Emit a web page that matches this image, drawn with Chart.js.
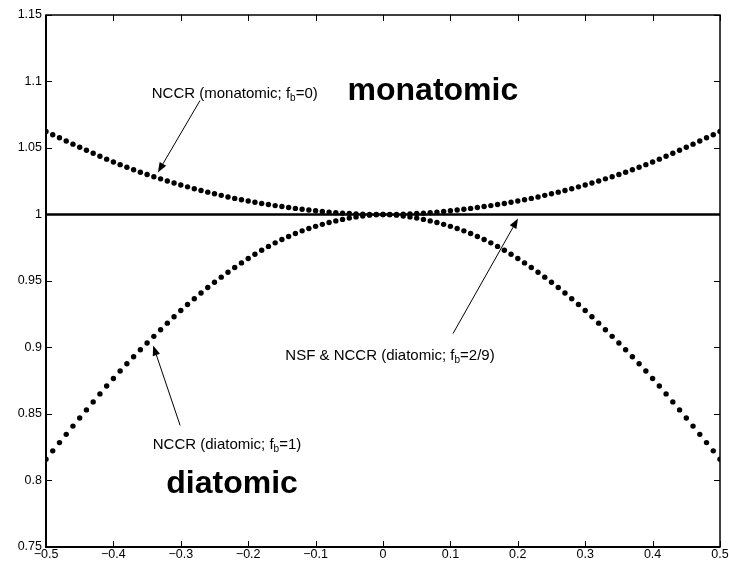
<!DOCTYPE html>
<html>
<head>
<meta charset="utf-8">
<script src="https://cdn.jsdelivr.net/npm/chart.js@4.4.0/dist/chart.umd.min.js"></script>
<style>
  html, body { margin: 0; padding: 0; background: #fff; }
  #wrap { width: 729px; height: 568px; }
</style>
</head>
<body>
<div id="wrap"><canvas id="ratioChart" width="729" height="568"></canvas></div>
<script>
// x positions of the sampled points
const xValues = [
  -0.50, -0.49, -0.48, -0.47, -0.46, -0.45, -0.44, -0.43, -0.42, -0.41,
  -0.40, -0.39, -0.38, -0.37, -0.36, -0.35, -0.34, -0.33, -0.32, -0.31,
  -0.30, -0.29, -0.28, -0.27, -0.26, -0.25, -0.24, -0.23, -0.22, -0.21,
  -0.20, -0.19, -0.18, -0.17, -0.16, -0.15, -0.14, -0.13, -0.12, -0.11,
  -0.10, -0.09, -0.08, -0.07, -0.06, -0.05, -0.04, -0.03, -0.02, -0.01,
  0.00,
  0.01, 0.02, 0.03, 0.04, 0.05, 0.06, 0.07, 0.08, 0.09, 0.10,
  0.11, 0.12, 0.13, 0.14, 0.15, 0.16, 0.17, 0.18, 0.19, 0.20,
  0.21, 0.22, 0.23, 0.24, 0.25, 0.26, 0.27, 0.28, 0.29, 0.30,
  0.31, 0.32, 0.33, 0.34, 0.35, 0.36, 0.37, 0.38, 0.39, 0.40,
  0.41, 0.42, 0.43, 0.44, 0.45, 0.46, 0.47, 0.48, 0.49, 0.50
];

// NCCR monatomic (f_b = 0)
const monatomic = [
  1.0624, 1.0600, 1.0577, 1.0553, 1.0529, 1.0506, 1.0483, 1.0460, 1.0438, 1.0416,
  1.0395, 1.0375, 1.0355, 1.0336, 1.0318, 1.0301, 1.0284, 1.0268, 1.0252, 1.0237,
  1.0222, 1.0208, 1.0194, 1.0181, 1.0168, 1.0156, 1.0144, 1.0132, 1.0121, 1.0111,
  1.0101, 1.0092, 1.0083, 1.0075, 1.0067, 1.0060, 1.0053, 1.0046, 1.0040, 1.0034,
  1.0028, 1.0023, 1.0018, 1.0014, 1.0010, 1.0007, 1.0005, 1.0003, 1.0001, 1.0000,
  1.0000,
  1.0000, 1.0001, 1.0003, 1.0005, 1.0007, 1.0010, 1.0014, 1.0018, 1.0023, 1.0028,
  1.0034, 1.0040, 1.0046, 1.0053, 1.0060, 1.0067, 1.0075, 1.0083, 1.0092, 1.0101,
  1.0111, 1.0121, 1.0132, 1.0144, 1.0156, 1.0168, 1.0181, 1.0194, 1.0208, 1.0222,
  1.0237, 1.0252, 1.0268, 1.0284, 1.0301, 1.0318, 1.0336, 1.0355, 1.0375, 1.0395,
  1.0416, 1.0438, 1.0460, 1.0483, 1.0506, 1.0529, 1.0553, 1.0577, 1.0600, 1.0624
];

// NCCR diatomic (f_b = 1)
const diatomic = [
  0.8160, 0.8223, 0.8285, 0.8347, 0.8409, 0.8470, 0.8531, 0.8591, 0.8651, 0.8710,
  0.8767, 0.8823, 0.8878, 0.8931, 0.8983, 0.9034, 0.9084, 0.9134, 0.9183, 0.9231,
  0.9278, 0.9323, 0.9367, 0.9410, 0.9451, 0.9491, 0.9529, 0.9566, 0.9602, 0.9636,
  0.9669, 0.9701, 0.9731, 0.9760, 0.9787, 0.9812, 0.9835, 0.9857, 0.9877, 0.9895,
  0.9911, 0.9926, 0.9940, 0.9952, 0.9963, 0.9973, 0.9982, 0.9989, 0.9995, 0.9999,
  1.0000,
  0.9999, 0.9995, 0.9989, 0.9982, 0.9973, 0.9963, 0.9952, 0.9940, 0.9926, 0.9911,
  0.9895, 0.9877, 0.9857, 0.9835, 0.9812, 0.9787, 0.9760, 0.9731, 0.9701, 0.9669,
  0.9636, 0.9602, 0.9566, 0.9529, 0.9491, 0.9451, 0.9410, 0.9367, 0.9323, 0.9278,
  0.9231, 0.9183, 0.9134, 0.9084, 0.9034, 0.8983, 0.8931, 0.8878, 0.8823, 0.8767,
  0.8710, 0.8651, 0.8591, 0.8531, 0.8470, 0.8409, 0.8347, 0.8285, 0.8223, 0.8160
];

// NSF & NCCR (diatomic; f_b = 2/9) is flat at 1
const nsfX = [-0.5, 0.5];
const nsfY = [1, 1];

// axis ticks
const xTicks = [-0.5, -0.4, -0.3, -0.2, -0.1, 0, 0.1, 0.2, 0.3, 0.4, 0.5];
const yTicks = [0.75, 0.8, 0.85, 0.9, 0.95, 1, 1.05, 1.1, 1.15];

// annotation text: [main, subscript, tail, x, y] (data coords, centre)
const notes = [
  ['NCCR (monatomic; f', 'b', '=0)', -0.22, 1.091],
  ['NCCR (diatomic; f', 'b', '=1)', -0.2315, 0.827],
  ['NSF & NCCR (diatomic; f', 'b', '=2/9)', 0.0104, 0.894]
];
const bigLabels = [
  ['monatomic', 0.074, 1.093],
  ['diatomic', -0.224, 0.797]
];
// arrows: [fromX, fromY, toX, toY]
const arrows = [
  [-0.2715, 1.0857, -0.334, 1.0316],
  [-0.301, 0.8414, -0.341, 0.9015],
  [0.1039, 0.9105, 0.2003, 0.997]
];

const FONT = '"Liberation Sans", Arial, Helvetica, sans-serif';

function fmt(v) {
  const r = Math.round(v * 100) / 100;
  if (r === 0) return '0';
  return (r < 0 ? '\u2212' : '') + String(Math.abs(r));
}

const pts = (xs, ys) => xs.map((x, i) => ({ x: x, y: ys[i] }));

const decorPlugin = {
  id: 'decor',
  afterDraw(chart) {
    const { ctx, chartArea: a, scales: { x, y } } = chart;
    ctx.save();
    ctx.strokeStyle = '#000';
    // box
    ctx.lineWidth = 1.5;
    ctx.strokeRect(a.left, a.top, a.right - a.left, a.bottom - a.top);
    ctx.lineWidth = 2;
    ctx.beginPath();
    ctx.moveTo(a.left, a.top); ctx.lineTo(a.left, a.bottom); ctx.lineTo(a.right, a.bottom);
    ctx.stroke();
    // inward ticks
    const tl = 6;
    ctx.lineWidth = 1;
    ctx.beginPath();
    xTicks.forEach(v => {
      const px = Math.round(x.getPixelForValue(v)) + 0.5;
      ctx.moveTo(px, a.bottom); ctx.lineTo(px, a.bottom - tl);
      ctx.moveTo(px, a.top); ctx.lineTo(px, a.top + tl);
    });
    yTicks.forEach(v => {
      const py = Math.round(y.getPixelForValue(v)) + 0.5;
      ctx.moveTo(a.left, py); ctx.lineTo(a.left + tl, py);
      ctx.moveTo(a.right, py); ctx.lineTo(a.right - tl, py);
    });
    ctx.stroke();

    // annotation texts with subscript
    ctx.fillStyle = '#000';
    ctx.textBaseline = 'middle';
    ctx.textAlign = 'left';
    notes.forEach(([main, sub, tail, nx, ny]) => {
      const big = '15px ' + FONT, small = '10px ' + FONT;
      ctx.font = big;
      const w1 = ctx.measureText(main).width;
      const w3 = ctx.measureText(tail).width;
      ctx.font = small;
      const w2 = ctx.measureText(sub).width;
      let px = x.getPixelForValue(nx) - (w1 + w2 + w3) / 2;
      const py = y.getPixelForValue(ny);
      ctx.font = big;
      ctx.fillText(main, px, py);
      px += w1;
      ctx.font = small;
      ctx.fillText(sub, px, py + 5);
      px += w2;
      ctx.font = big;
      ctx.fillText(tail, px, py);
    });

    ctx.textAlign = 'center';
    ctx.font = 'bold 32px ' + FONT;
    bigLabels.forEach(([t, bx, by]) => {
      ctx.fillText(t, x.getPixelForValue(bx), y.getPixelForValue(by));
    });

    // arrows
    arrows.forEach(([fx, fy, tx, ty]) => {
      const x0 = x.getPixelForValue(fx), y0 = y.getPixelForValue(fy);
      const x1 = x.getPixelForValue(tx), y1 = y.getPixelForValue(ty);
      const ang = Math.atan2(y1 - y0, x1 - x0);
      const hl = 10, hw = 3.8;
      ctx.lineWidth = 1;
      ctx.beginPath();
      ctx.moveTo(x0, y0);
      ctx.lineTo(x1 - hl * Math.cos(ang), y1 - hl * Math.sin(ang));
      ctx.stroke();
      ctx.beginPath();
      ctx.moveTo(x1, y1);
      ctx.lineTo(x1 - hl * Math.cos(ang) - hw * Math.sin(ang), y1 - hl * Math.sin(ang) + hw * Math.cos(ang));
      ctx.lineTo(x1 - hl * Math.cos(ang) + hw * Math.sin(ang), y1 - hl * Math.sin(ang) - hw * Math.cos(ang));
      ctx.closePath();
      ctx.fill();
    });
    ctx.restore();
  }
};

const dotStyle = {
  showLine: false,
  pointRadius: 2.7,
  pointHoverRadius: 2.7,
  pointBackgroundColor: '#000',
  pointBorderColor: '#000',
  pointBorderWidth: 0,
  order: 1
};

new Chart(document.getElementById('ratioChart'), {
  type: 'scatter',
  data: {
    datasets: [
      Object.assign({ label: 'NCCR (monatomic; fb=0)', data: pts(xValues, monatomic) }, dotStyle),
      Object.assign({ label: 'NCCR (diatomic; fb=1)', data: pts(xValues, diatomic) }, dotStyle),
      { label: 'NSF & NCCR (diatomic; fb=2/9)', data: pts(nsfX, nsfY), showLine: true,
        borderColor: '#000', borderWidth: 2.5, pointRadius: 0, order: 2 }
    ]
  },
  options: {
    responsive: false,
    animation: false,
    events: [],
    layout: { padding: { top: 15, right: 9, left: 0, bottom: 0 } },
    plugins: { legend: { display: false }, tooltip: { enabled: false } },
    scales: {
      x: {
        type: 'linear', min: -0.5, max: 0.5,
        afterFit: s => { s.height = 21; s.paddingLeft = 0; s.paddingRight = 0; },
        afterBuildTicks: s => { s.ticks = xTicks.map(v => ({ value: v })); },
        grid: { display: false, drawTicks: false },
        border: { display: false },
        ticks: { color: '#000', padding: 0, maxRotation: 0, autoSkip: false,
          font: { family: FONT, size: 12.5 }, callback: v => fmt(v) }
      },
      y: {
        type: 'linear', min: 0.75, max: 1.15,
        afterFit: s => { s.width = 46; s.paddingTop = 0; s.paddingBottom = 0; },
        afterBuildTicks: s => { s.ticks = yTicks.map(v => ({ value: v })); },
        grid: { display: false, drawTicks: false },
        border: { display: false },
        ticks: { color: '#000', padding: 4, autoSkip: false,
          font: { family: FONT, size: 12.5 }, callback: v => fmt(v) }
      }
    }
  },
  plugins: [decorPlugin]
});
</script>
</body>
</html>
